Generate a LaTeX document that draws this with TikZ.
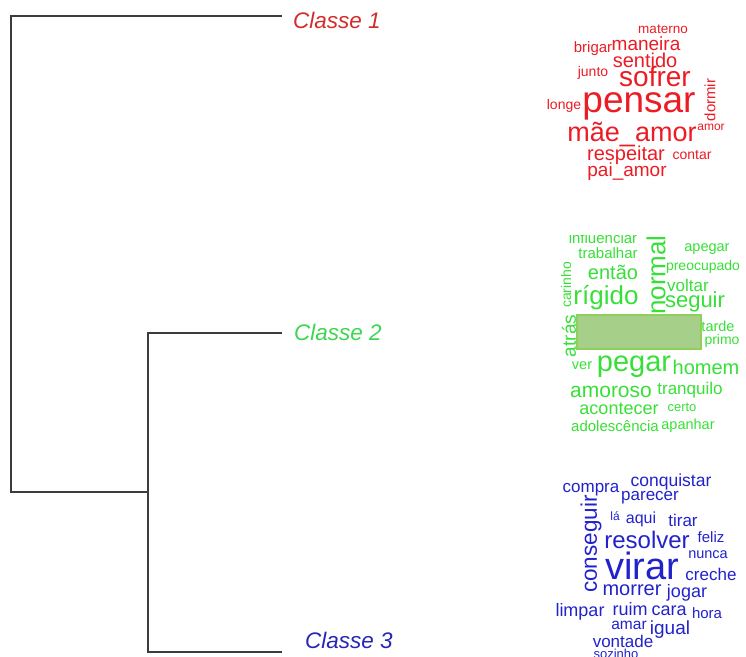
\documentclass[tikz,border=0pt]{standalone}
\usepackage{fontspec}
\setmainfont{Liberation Sans}
\definecolor{cred}{HTML}{EC1C24}
\definecolor{cgreen}{HTML}{36E036}
\definecolor{cblue}{HTML}{2222CC}
\definecolor{lred}{HTML}{D42A2A}
\definecolor{lgreen}{HTML}{3CD64F}
\definecolor{lblue}{HTML}{2525B8}
\definecolor{dline}{HTML}{3C3C3C}
\definecolor{boxfill}{HTML}{A6CF8A}
\definecolor{boxline}{HTML}{8ED05A}
\newcommand\fsz[1]{\fontsize{#1}{#1}\selectfont}
\tikzset{
  wd/.style={inner sep=0pt, anchor=center},
  rw/.style={wd, text=cred},
  gw/.style={wd, text=cgreen},
  bw/.style={wd, text=cblue},
  lbl/.style={inner sep=0pt, anchor=center, font=\fsz{22.5}\itshape},
  dendro/.style={draw=dline, line width=1.5pt}
}
\begin{document}
\begin{tikzpicture}[x=1pt,y=-1pt]
\useasboundingbox (0,0) rectangle (746,656);
\clip (0,0) rectangle (746,656);
% dendrogram
\coordinate (e1) at (282,16);
\coordinate (a1) at (11,16);
\coordinate (a2) at (11,492);
\coordinate (b0) at (148,492);
\coordinate (b1) at (148,333);
\coordinate (b2) at (148,652);
\coordinate (e2) at (282,333);
\coordinate (e3) at (282,652);
\draw[dendro] (e1) -- (a1) -- (a2) -- (b0);
\draw[dendro] (e2) -- (b1) -- (b2) -- (e3);
\node[lbl, text=lred] (c1) at (337,20) {Classe 1};
\node[lbl, text=lgreen] (c2) at (338,332) {Classe 2};
\node[lbl, text=lblue] (c3) at (349,640) {Classe 3};
% red cloud
\node[rw, font=\fsz{13.5}] (r1) at (663,29) {materno};
\node[rw, font=\fsz{15}] (r2) at (593,49) {brigar};
\node[rw, font=\fsz{19}] (r3) at (646,44) {maneira};
\node[rw, font=\fsz{20}] (r4) at (645,60) {sentido};
\node[rw, font=\fsz{14}] (r5) at (593,73) {junto};
\node[rw, font=\fsz{28}] (r6) at (655,77) {sofrer};
\node[rw, font=\fsz{14}] (r7) at (564,106) {longe};
\node[rw, font=\fsz{37}] (r8) at (639,106) {pensar};
\node[rw, font=\fsz{15}, rotate=90] (r9) at (710,100) {dormir};
\node[rw, font=\fsz{12}] (r10) at (711,127) {amor};
\node[rw, font=\fsz{27}] (r11) at (632,134) {mãe\_amor};
\node[rw, font=\fsz{20}] (r12) at (626,155) {respeitar};
\node[rw, font=\fsz{14}] (r13) at (692,155) {contar};
\node[rw, font=\fsz{19}] (r14) at (627,172) {pai\_amor};
% green cloud
\begin{scope}
\clip (540,235) rectangle (746,260);
\node[gw, anchor=base, font=\fsz{15}] (g0) at (603,243) {influenciar};
\end{scope}
\node[gw, font=\fsz{15}] (g1) at (608,253) {trabalhar};
\node[gw, font=\fsz{14.5}] (g2) at (707,249) {apegar};
\node[gw, font=\fsz{14}, rotate=90] (g3) at (566,285) {carinho};
\node[gw, font=\fsz{20}] (g4) at (613,272) {então};
\node[gw, font=\fsz{26}, rotate=90] (g5) at (656,275) {normal};
\node[gw, font=\fsz{14}] (g6) at (703,267) {preocupado};
\node[gw, font=\fsz{17}] (g7) at (688,285) {voltar};
\node[gw, font=\fsz{26}] (g8) at (606,298) {rígido};
\node[gw, font=\fsz{22}] (g9) at (695,302) {seguir};
\node[gw, font=\fsz{19}, rotate=90] (g10) at (569,336) {atrás};
\node[gw, font=\fsz{14.5}] (g11) at (718,326) {tarde};
\node[gw, font=\fsz{14}] (g12) at (722,341) {primo};
\node[gw, font=\fsz{14.5}] (g13) at (582,366) {ver};
\node[gw, font=\fsz{29}] (g14) at (634,367) {pegar};
\node[gw, font=\fsz{20}] (g15) at (706,367) {homem};
\node[gw, font=\fsz{21}] (g16) at (611,392) {amoroso};
\node[gw, font=\fsz{17}] (g17) at (690,390) {tranquilo};
\node[gw, font=\fsz{18}] (g18) at (619,409) {acontecer};
\node[gw, font=\fsz{13}] (g19) at (682,407) {certo};
\node[gw, font=\fsz{15}] (g20) at (615,426) {adolescência};
\node[gw, font=\fsz{14.5}] (g21) at (688,426) {apanhar};
\node[draw=boxline, line width=2pt, fill=boxfill, minimum width=124pt, minimum height=34pt, inner sep=0pt] (box) at (639,332) {};
% blue cloud
\node[bw, font=\fsz{17}] (u1) at (591,490) {compra};
\node[bw, font=\fsz{17.5}] (u2) at (671,482) {conquistar};
\node[bw, font=\fsz{17}] (u3) at (650,498) {parecer};
\node[bw, font=\fsz{22.5}, rotate=90] (u4) at (591,544) {conseguir};
\node[bw, font=\fsz{12}] (u5) at (615,516) {lá};
\node[bw, font=\fsz{16}] (u6) at (641,519) {aqui};
\node[bw, font=\fsz{17}] (u7) at (683,520) {tirar};
\node[bw, font=\fsz{24}] (u8) at (647,540) {resolver};
\node[bw, font=\fsz{15}] (u9) at (711,537) {feliz};
\node[bw, font=\fsz{14.5}] (u10) at (708,555) {nunca};
\node[bw, font=\fsz{38}] (u11) at (642,566) {virar};
\node[bw, font=\fsz{17}] (u12) at (711,574) {creche};
\node[bw, font=\fsz{20}] (u13) at (632,590) {morrer};
\node[bw, font=\fsz{18}] (u14) at (687,593) {jogar};
\node[bw, font=\fsz{18}] (u15) at (580,612) {limpar};
\node[bw, font=\fsz{18}] (u16) at (630,609) {ruim};
\node[bw, font=\fsz{18}] (u17) at (669,611) {cara};
\node[bw, font=\fsz{15}] (u18) at (707,613) {hora};
\node[bw, font=\fsz{15.5}] (u19) at (629,625) {amar};
\node[bw, font=\fsz{19}] (u20) at (670,630) {igual};
\node[bw, font=\fsz{17}] (u21) at (623,641) {vontade};
\node[bw, anchor=base, font=\fsz{13}] (u22) at (616,658) {sozinho};
\end{tikzpicture}
\end{document}
